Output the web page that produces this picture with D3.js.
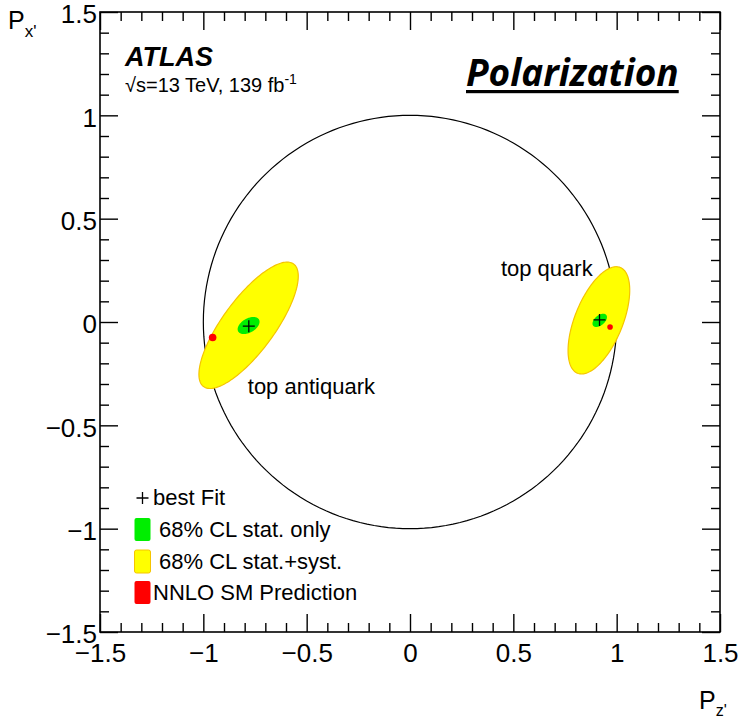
<!DOCTYPE html>
<html>
<head>
<meta charset="utf-8">
<script src="https://cdn.jsdelivr.net/npm/d3@7"></script>
<style>
	body { margin: 0; background: #fff; }
	svg { display: block; font-family: 'Liberation Sans', Arial, sans-serif; }
</style>
</head>
<body>
<script>
// axis range and ticks (same for P_z' and P_x')
const axisDomain = [-1.5, 1.5];
const majorTicks = [-1.5, -1, -0.5, 0, 0.5, 1, 1.5];
const minorTicks = d3.range(-15, 16).map((i) => i / 10);

// samples: top quark, top antiquark
const samples = ['top quark', 'top antiquark'];
// best fit [P_z', P_x']
const bestFit = [
	[0.917, 0.01],
	[-0.78, -0.02],
];
// 68% CL stat. only: [centre z, centre x, semi-major, semi-minor, angle deg]
const statContour = [
	[0.918, 0.008, 0.041, 0.024, 40],
	[-0.781, -0.017, 0.058, 0.034, 30],
];
// 68% CL stat.+syst.
const systContour = [
	[0.914, 0.008, 0.276, 0.116, 68],
	[-0.781, -0.016, 0.368, 0.126, 53.7],
];
// NNLO SM prediction [P_z', P_x']
const smPrediction = [
	[0.968, -0.024],
	[-0.955, -0.075],
];
const legendLabels = ['best Fit', '68% CL stat. only', '68% CL stat.+syst.', 'NNLO SM Prediction'];

const width = 740;
const height = 719;
const mLeft = 100, mRight = 720, mTop = 12, mBottom = 632;

const x = d3.scaleLinear().domain(axisDomain).range([mLeft, mRight]);
const y = d3.scaleLinear().domain(axisDomain).range([mBottom, mTop]);
const fmt = d3.format('~g');

const svg = d3.select('body').append('svg').attr('width', width).attr('height', height);

const line = d3.line().x((d) => x(d[0])).y((d) => y(d[1])).curve(d3.curveLinearClosed);
const ellipse = ([cz, cx, a, b, ang]) => {
	const th = (ang * Math.PI) / 180;
	return d3.range(0, 2 * Math.PI, Math.PI / 90).map((t) => [
		cz + a * Math.cos(t) * Math.cos(th) - b * Math.sin(t) * Math.sin(th),
		cx + a * Math.cos(t) * Math.sin(th) + b * Math.sin(t) * Math.cos(th),
	]);
};

// unit circle
svg.append('path')
	.attr('d', line(ellipse([0, 0, 1, 1, 0])))
	.attr('fill', 'none')
	.attr('stroke', '#000')
	.attr('stroke-width', 1.2);

svg.append('g')
	.selectAll('path')
	.data(systContour)
	.join('path')
	.attr('d', (d) => line(ellipse(d)))
	.attr('fill', '#ffff00')
	.attr('stroke', '#f5c400')
	.attr('stroke-width', 1.2);

svg.append('g')
	.selectAll('path')
	.data(statContour)
	.join('path')
	.attr('d', (d) => line(ellipse(d)))
	.attr('fill', '#00ee00');

svg.append('g')
	.selectAll('circle')
	.data(smPrediction)
	.join('circle')
	.attr('cx', (d) => x(d[0]))
	.attr('cy', (d) => y(d[1]))
	.attr('r', (d, i) => (i === 0 ? 2.8 : 3.8))
	.attr('fill', '#ff0000');

const cross = (g, s) =>
	g.append('path').attr('d', `M${-s},0H${s}M0,${-s}V${s}`).attr('stroke', '#000').attr('stroke-width', 1.3);

svg.append('g')
	.selectAll('g')
	.data(bestFit)
	.join('g')
	.attr('transform', (d) => `translate(${x(d[0])},${y(d[1])})`)
	.each(function () {
		cross(d3.select(this), 6);
	});

// sample labels
const annot = [
	{ text: samples[0], z: 0.44, px: 0.225 },
	{ text: samples[1], z: -0.785, px: -0.35 },
];
svg.append('g')
	.selectAll('text')
	.data(annot)
	.join('text')
	.attr('x', (d) => x(d.z))
	.attr('y', (d) => y(d.px))
	.attr('font-size', 22)
	.text((d) => d.text);

// axes: ticks inward on all four sides
const axisStyle = (g) => {
	g.select('.domain').remove();
	g.selectAll('.tick line').attr('stroke', '#000').attr('stroke-width', 1.4);
	g.selectAll('.tick text')
		.attr('fill', '#000')
		.attr('font-size', 26)
		.attr('font-family', "'Liberation Sans', Arial, sans-serif");
};
const minorOnly = minorTicks.filter((v) => !majorTicks.some((m) => Math.abs(m - v) < 1e-9));

svg.append('g').attr('transform', `translate(0,${mBottom})`)
	.call(d3.axisBottom(x).tickValues(majorTicks).tickSize(-18).tickPadding(12).tickFormat(fmt))
	.call(axisStyle)
	.selectAll('.tick text').attr('dy', '0.71em');
svg.append('g').attr('transform', `translate(0,${mBottom})`)
	.call(d3.axisBottom(x).tickValues(minorOnly).tickSize(-9).tickFormat(''))
	.call(axisStyle);
svg.append('g').attr('transform', `translate(0,${mTop})`)
	.call(d3.axisTop(x).tickValues(majorTicks).tickSize(-18).tickFormat(''))
	.call(axisStyle);
svg.append('g').attr('transform', `translate(0,${mTop})`)
	.call(d3.axisTop(x).tickValues(minorOnly).tickSize(-9).tickFormat(''))
	.call(axisStyle);
svg.append('g').attr('transform', `translate(${mLeft},0)`)
	.call(d3.axisLeft(y).tickValues(majorTicks).tickSize(-18).tickPadding(3).tickFormat(fmt))
	.call(axisStyle)
	.selectAll('.tick text').attr('dy', '0.42em');
svg.append('g').attr('transform', `translate(${mLeft},0)`)
	.call(d3.axisLeft(y).tickValues(minorOnly).tickSize(-9).tickFormat(''))
	.call(axisStyle);
svg.append('g').attr('transform', `translate(${mRight},0)`)
	.call(d3.axisRight(y).tickValues(majorTicks).tickSize(-18).tickFormat(''))
	.call(axisStyle);
svg.append('g').attr('transform', `translate(${mRight},0)`)
	.call(d3.axisRight(y).tickValues(minorOnly).tickSize(-9).tickFormat(''))
	.call(axisStyle);

svg.append('rect')
	.attr('x', mLeft).attr('y', mTop)
	.attr('width', mRight - mLeft).attr('height', mBottom - mTop)
	.attr('fill', 'none').attr('stroke', '#000').attr('stroke-width', 1.6);

// axis titles
const xt = svg.append('text').attr('x', 699).attr('y', 709).attr('font-size', 25);
xt.append('tspan').text('P');
xt.append('tspan').attr('dy', 7).attr('font-size', 16).text("z'");
const yt = svg.append('text').attr('x', 8).attr('y', 29).attr('font-size', 25);
yt.append('tspan').text('P');
yt.append('tspan').attr('dy', 8).attr('font-size', 17).text("x'");

// ATLAS label
svg.append('text')
	.attr('x', 125).attr('y', 66)
	.attr('font-size', 27).attr('font-weight', 'bold').attr('font-style', 'italic')
	.text('ATLAS');
const en = svg.append('text').attr('x', 125).attr('y', 92).attr('font-size', 20);
en.append('tspan').text('\u221As=13 TeV, 139 fb');
en.append('tspan').attr('dy', -8).attr('font-size', 14).text('-1');

// Polarization title
const pol = svg.append('text')
	.attr('x', 466).attr('y', 86)
	.attr('font-family', "'Open Sans', sans-serif")
	.attr('font-size', 37).attr('font-weight', 'bold').attr('font-style', 'italic')
	.text('Polarization');
const pw = pol.node().getComputedTextLength();
svg.append('rect').attr('x', 466).attr('y', 90).attr('width', pw).attr('height', 3.2).attr('fill', '#000');

// legend
const lg = svg.append('g').attr('font-size', 22);
const rowY = [505, 537, 569, 600];
cross(lg.append('g').attr('transform', `translate(142.5,${rowY[0] - 7})`), 6);
lg.append('text').attr('x', 153).attr('y', rowY[0]).text(legendLabels[0]);
const boxes = [
	{ fill: '#00ee00', stroke: 'none', tx: 159 },
	{ fill: '#ffff00', stroke: '#f5c400', tx: 159 },
	{ fill: '#ff0000', stroke: 'none', tx: 153 },
];
boxes.forEach((b, i) => {
	lg.append('rect')
		.attr('x', 134.5).attr('y', rowY[i + 1] - 19)
		.attr('width', 16).attr('height', 23).attr('rx', 2)
		.attr('fill', b.fill).attr('stroke', b.stroke);
	lg.append('text').attr('x', b.tx).attr('y', rowY[i + 1]).text(legendLabels[i + 1]);
});
</script>
</body>
</html>
